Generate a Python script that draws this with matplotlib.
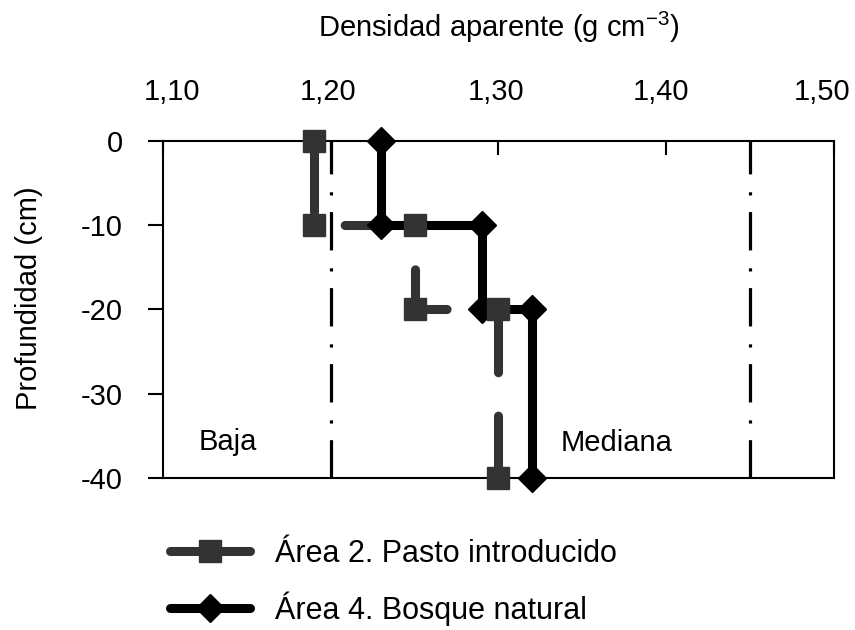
import matplotlib
matplotlib.use("Agg")
import matplotlib.pyplot as plt
from matplotlib.transforms import ScaledTranslation

plt.rcParams["font.family"] = ["Liberation Sans", "DejaVu Sans"]
plt.rcParams["axes.unicode_minus"] = False

# Perfil de densidad aparente (escalones por profundidad)
prof = [0, -10, -10, -20, -20, -40]
dens_area2 = [1.19, 1.19, 1.25, 1.25, 1.30, 1.30]
dens_area4 = [1.23, 1.23, 1.29, 1.29, 1.32, 1.32]

limites = [1.20, 1.45]          # lineas de referencia Baja / Mediana
x_ticks = [1.10, 1.20, 1.30, 1.40, 1.50]
x_labels = ["1,10", "1,20", "1,30", "1,40", "1,50"]
y_ticks = [0, -10, -20, -30, -40]

gris = "#333333"
fs = 21

fig = plt.figure(figsize=(8.55, 6.30), dpi=100)
ax = fig.add_axes([0.1906, 0.2413, 0.7848, 0.5349])

# reference lines
for xl in limites:
    ax.axvline(xl, color="black", linewidth=2.3,
               linestyle=(0, (12.0, 5.2, 1.0, 5.6)), zorder=1)

# Area 2 line (under), Area 4 on top, Area 2 markers on top of everything
ax.plot(dens_area2, prof, color=gris, linewidth=6.5,
        linestyle=(0, (7.9, 4.8)), dash_capstyle="round", zorder=2)
ax.plot(dens_area4, prof, color="black", linewidth=6.5, marker="D",
        markersize=14, zorder=3, clip_on=False)
ax.plot(dens_area2, prof, color=gris, linestyle="none", marker="s",
        markersize=16, zorder=4, clip_on=False)

ax.set_xlim(1.10, 1.50)
ax.set_ylim(-40, 0)
ax.set_xticks(x_ticks)
ax.set_xticklabels(x_labels)
ax.set_yticks(y_ticks)

ax.xaxis.tick_top()
ax.xaxis.set_label_position("top")
ax.tick_params(axis="x", direction="in", length=10, width=1.5,
               labelsize=fs, pad=25)
ax.tick_params(axis="y", direction="out", length=11, width=1.5,
               labelsize=fs, pad=18)
for s in ax.spines.values():
    s.set_linewidth(1.5)

# small horizontal nudges of the top tick labels (pixels), as in the original
nudge = [9, -3, -2, -5, -12]
for lab, dx in zip(ax.get_xticklabels(), nudge):
    lab.set_transform(lab.get_transform() +
                      ScaledTranslation(dx / 100, 0, fig.dpi_scale_trans))

ax.set_xlabel("Densidad aparente (g cm$^{\\mathregular{-3}}$)", fontsize=fs,
              labelpad=30)
ax.set_ylabel("Profundidad (cm)", fontsize=fs)
ax.yaxis.set_label_coords(-0.1786, 0.534)

ax.text(1.121, -35.7, "Baja", fontsize=fs, va="center")
ax.text(1.337, -35.8, "Mediana", fontsize=fs, va="center")

# legend below the plot
h2, = ax.plot([], [], color=gris, linewidth=6.5, marker="s", markersize=16,
              solid_capstyle="round")
h4, = ax.plot([], [], color="black", linewidth=6.5, marker="D", markersize=14,
              solid_capstyle="round")
fig.legend([h2, h4], ["Área 2. Pasto introducido", "Área 4. Bosque natural"],
           loc="upper left", bbox_to_anchor=(0.199, 0.145), frameon=False,
           fontsize=22, numpoints=1, handlelength=2.6, handletextpad=0.82,
           labelspacing=0.75, borderpad=0, borderaxespad=0)

fig.savefig("out.png", dpi=100)
